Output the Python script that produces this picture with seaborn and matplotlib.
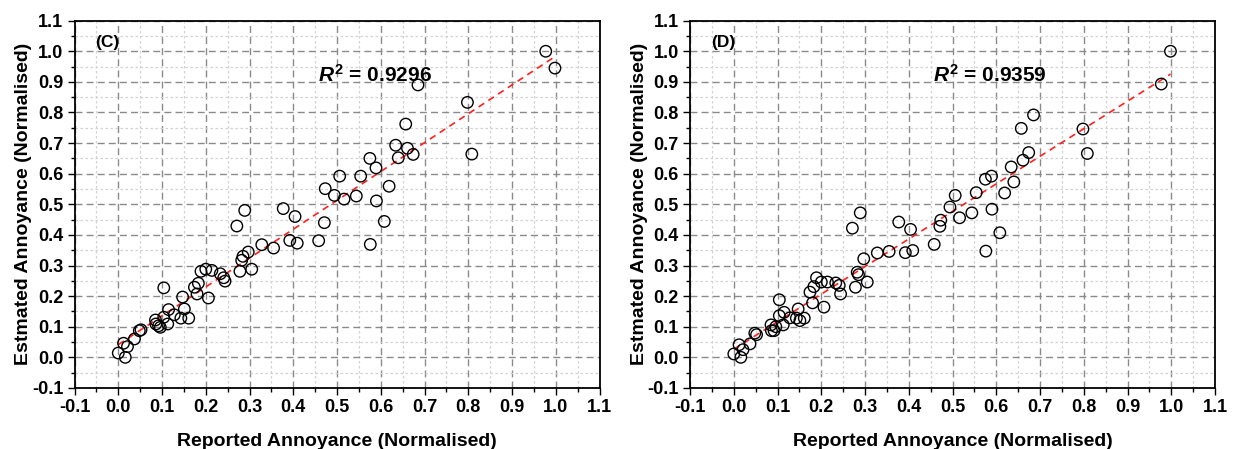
import numpy as np
import pandas as pd
import matplotlib
matplotlib.use("Agg")
import matplotlib.pyplot as plt
import seaborn as sns

# Reported (normalised) annoyance per case
reported = [0.000, 0.016, 0.012, 0.021, 0.037, 0.048, 0.052, 0.085, 0.086, 0.092,
            0.096, 0.104, 0.104, 0.113, 0.115, 0.128, 0.143, 0.147, 0.151, 0.161,
            0.174, 0.183, 0.180, 0.189, 0.200, 0.206, 0.214, 0.233, 0.241, 0.244,
            0.271, 0.278, 0.282, 0.285, 0.289, 0.297, 0.305, 0.328, 0.355, 0.377,
            0.392, 0.404, 0.409, 0.458, 0.471, 0.473, 0.494, 0.506, 0.516, 0.544,
            0.554, 0.575, 0.576, 0.589, 0.590, 0.608, 0.619, 0.634, 0.640, 0.657,
            0.661, 0.674, 0.685, 0.798, 0.808, 0.977, 0.998]

# Estimated annoyance, model (C)
estimated_c = [0.014, 0.000, 0.046, 0.035, 0.060, 0.087, 0.090, 0.122, 0.109, 0.103,
               0.098, 0.227, 0.131, 0.109, 0.156, 0.139, 0.128, 0.197, 0.158, 0.128,
               0.229, 0.242, 0.207, 0.281, 0.288, 0.194, 0.284, 0.273, 0.260, 0.249,
               0.429, 0.281, 0.317, 0.330, 0.480, 0.344, 0.288, 0.368, 0.357, 0.486,
               0.382, 0.460, 0.373, 0.381, 0.440, 0.551, 0.529, 0.592, 0.517, 0.527,
               0.592, 0.650, 0.369, 0.619, 0.511, 0.444, 0.559, 0.693, 0.652, 0.762,
               0.683, 0.663, 0.890, 0.833, 0.664, 1.000, 0.945]

# Estimated annoyance, model (D)
estimated_d = [0.011, 0.000, 0.041, 0.025, 0.044, 0.079, 0.074, 0.106, 0.087, 0.087,
               0.100, 0.188, 0.136, 0.106, 0.147, 0.129, 0.128, 0.158, 0.120, 0.128,
               0.213, 0.231, 0.178, 0.260, 0.246, 0.164, 0.246, 0.243, 0.235, 0.207,
               0.422, 0.229, 0.278, 0.270, 0.472, 0.322, 0.246, 0.341, 0.346, 0.442,
               0.342, 0.418, 0.349, 0.369, 0.428, 0.448, 0.491, 0.529, 0.456, 0.472,
               0.538, 0.582, 0.347, 0.592, 0.484, 0.407, 0.537, 0.622, 0.573, 0.748,
               0.644, 0.669, 0.792, 0.746, 0.666, 0.893, 1.000]

panel_tags = ["(C)", "(D)"]
r2_values = ["0.9296", "0.9359"]
tick_values = [-0.1, 0.0, 0.1, 0.2, 0.3, 0.4, 0.5, 0.6, 0.7, 0.8, 0.9, 1.0, 1.1]
tick_labels = ["-0.1", "0.0", "0.1", "0.2", "0.3", "0.4", "0.5", "0.6",
               "0.7", "0.8", "0.9", "1.0", "1.1"]

sns.set_style("white")
plt.rcParams["font.family"] = ["Liberation Sans", "DejaVu Sans"]
plt.rcParams["font.weight"] = "bold"
plt.rcParams["axes.unicode_minus"] = False
plt.rcParams["text.color"] = "black"
plt.rcParams["axes.labelcolor"] = "black"
plt.rcParams["xtick.color"] = "black"
plt.rcParams["ytick.color"] = "black"
plt.rcParams["mathtext.fontset"] = "custom"
plt.rcParams["mathtext.rm"] = "Liberation Sans:bold"
plt.rcParams["mathtext.bf"] = "Liberation Sans:bold"
plt.rcParams["mathtext.it"] = "Liberation Sans:bold:italic"
plt.rcParams["mathtext.bfit"] = "Liberation Sans:bold:italic"

fig = plt.figure(figsize=(12.38, 4.49), dpi=100)
axes = [fig.add_axes([0.0602, 0.136, 0.4241, 0.818]),
        fig.add_axes([0.5574, 0.136, 0.4241, 0.818])]

for ax, est, tag, r2 in zip(axes, [estimated_c, estimated_d], panel_tags, r2_values):
    df = pd.DataFrame({"reported": reported, "estimated": est})

    ax.set_xlim(-0.1, 1.1)
    ax.set_ylim(-0.1, 1.1)
    ax.set_xticks(tick_values)
    ax.set_yticks(tick_values)
    ax.set_xticklabels(tick_labels, fontsize=13, fontweight="bold")
    ax.set_yticklabels(tick_labels, fontsize=13, fontweight="bold")
    minor = np.arange(-0.05, 1.1, 0.1)
    ax.set_xticks(minor, minor=True)
    ax.set_yticks(minor, minor=True)

    ax.set_axisbelow(True)
    ax.grid(which="major", linestyle=(0, (5, 3)), color="#8a8a8a", linewidth=1.0)
    ax.grid(which="minor", linestyle=(0, (2, 2)), color="#d2d2d2", linewidth=0.9)

    ax.tick_params(axis="both", which="major", direction="out", length=5,
                   width=1.0, color="black", bottom=True, left=True, pad=3)
    ax.tick_params(axis="both", which="minor", direction="out", length=3,
                   width=1.0, color="black", bottom=True, left=True)
    for sp in ax.spines.values():
        sp.set_visible(True)
        sp.set_color("black")
        sp.set_linewidth(1.3)

    sns.regplot(data=df, x="reported", y="estimated", ax=ax, scatter=False,
                ci=None, line_kws={"color": "#ff2020", "linewidth": 1.2,
                                   "linestyle": (0, (4, 3))})
    sns.scatterplot(data=df, x="reported", y="estimated", ax=ax, s=68,
                    facecolor="none", edgecolor="black", linewidth=1.0,
                    zorder=3)

    ax.set_xlim(-0.1, 1.1)
    ax.set_ylim(-0.1, 1.1)
    ax.set_xlabel("Reported Annoyance (Normalised)", fontsize=14,
                  fontweight="bold", labelpad=12)
    ax.set_ylabel("Estmated Annoyance (Normalised)", fontsize=14,
                  fontweight="bold", labelpad=0)

    ax.text(-0.052, 1.028, tag, fontsize=12.5, fontweight="bold",
            ha="left", va="center")
    ax.text(0.456, 0.923, r"$\mathit{R}^{2}$" + " = " + r2,
            fontsize=15, fontweight="bold", ha="left", va="center")

fig.savefig("out.png", dpi=100)
